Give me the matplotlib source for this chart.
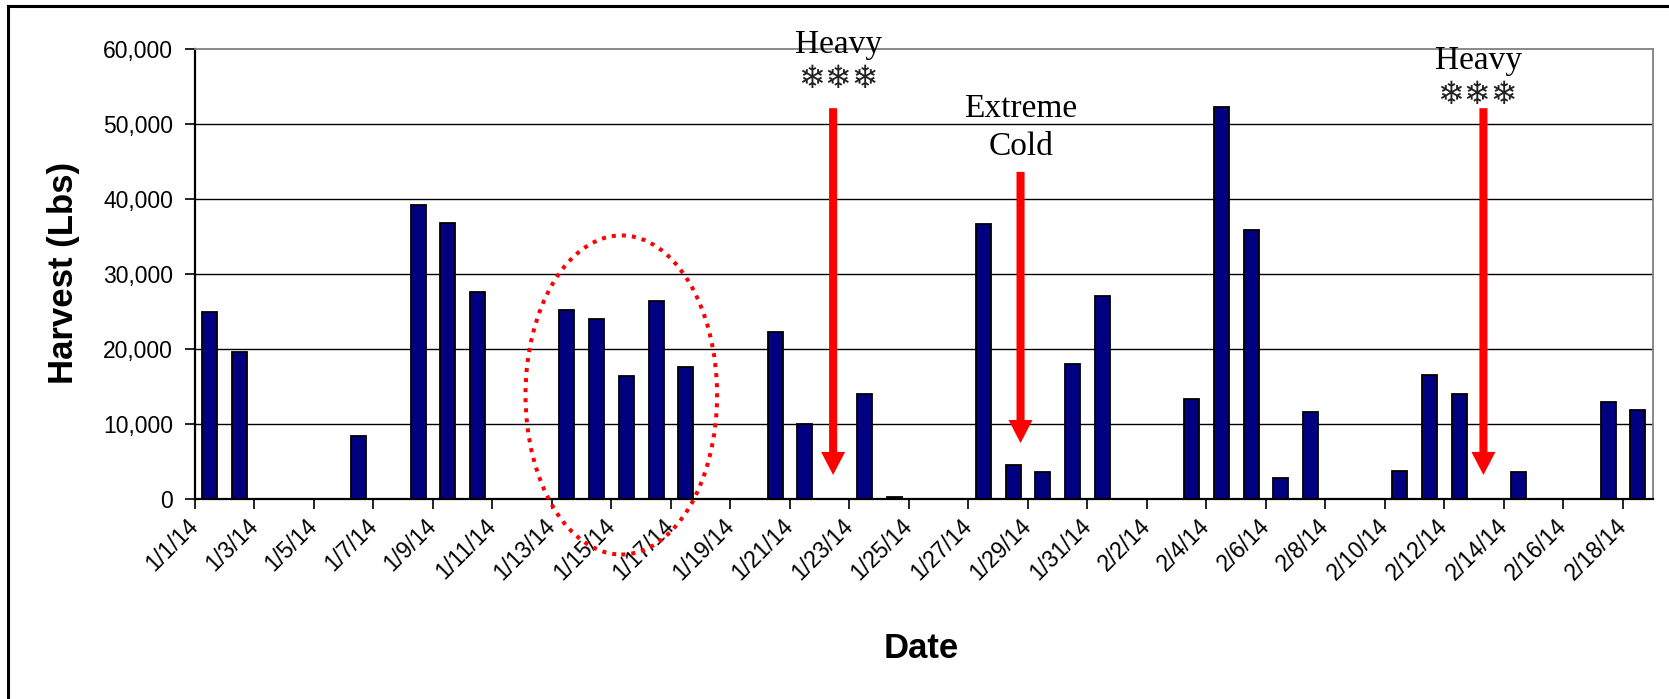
import numpy as np
import pandas as pd
import matplotlib
matplotlib.use("Agg")
import matplotlib.pyplot as plt
from matplotlib.patches import Ellipse
from matplotlib.lines import Line2D
from matplotlib.ticker import FuncFormatter

# daily harvest, 1/1/14 .. 2/18/14 (0 = no harvest that day)
dates = pd.date_range("2014-01-01", "2014-02-18", freq="D")
harvest = [24900, 19500, 0, 0, 0, 8300, 0, 39200, 36800, 27500,
           0, 0, 25100, 24000, 16300, 26400, 17600, 0, 0, 22200,
           9900, 0, 13900, 250, 0, 0, 36600, 4500, 3500, 17900,
           27000, 0, 0, 13300, 52300, 35800, 2700, 11500, 0, 0,
           3700, 16500, 13900, 0, 3500, 0, 0, 12900, 11800]
tick_labels = [f"{d.month}/{d.day}/{d.strftime('%y')}" for d in dates[::2]]
y_ticks = [0, 10000, 20000, 30000, 40000, 50000, 60000]

W, H = 1669, 699
fig = plt.figure(figsize=(W / 100, H / 100), dpi=100)
ax = fig.add_axes([195 / W, 1 - 498.5 / H, (1652.7 - 195) / W, (498.5 - 49) / H])

x = np.arange(len(harvest))
ax.bar(x, harvest, width=0.5, color="#000080", edgecolor="black",
       linewidth=1.3, zorder=2)

ax.set_xlim(-0.5, len(harvest) - 0.5)
ax.set_ylim(0, 60000)
ax.set_yticks(y_ticks)
ax.yaxis.set_major_formatter(FuncFormatter(lambda v, p: f"{int(v):,}"))
ax.set_xticks(np.arange(-0.5, len(harvest) - 1, 2))
ax.set_xticklabels(tick_labels, rotation=45, ha="right", va="center",
                   rotation_mode="anchor")

ax.yaxis.grid(True, color="black", linewidth=1.0)
ax.get_ygridlines()[-1].set_visible(False)
ax.set_axisbelow(True)

for side in ["left", "bottom"]:
    ax.spines[side].set_color("black")
    ax.spines[side].set_linewidth(1.6)
for side in ["top", "right"]:
    ax.spines[side].set_color("#808080")
    ax.spines[side].set_linewidth(1.3)

ax.tick_params(axis="both", direction="out", length=7.2, width=1.2,
               labelsize=16.5, colors="black")
ax.tick_params(axis="y", pad=8.5)
ax.tick_params(axis="x", pad=10)
for lab in ax.get_xticklabels() + ax.get_yticklabels():
    lab.set_family(["Liberation Sans", "DejaVu Sans"])

# circled cluster
ax.add_patch(Ellipse((13.83, 13820), 6.44, 42590, fill=False, edgecolor="red",
                     linewidth=2.9, linestyle=(0, (1, 1.5)), capstyle="butt",
                     clip_on=False, zorder=4))

# weather event arrows
arrow_kw = dict(facecolor="red", edgecolor="none", width=5.8, headwidth=17.3,
                headlength=16.6, shrink=0)
for ax_x, top, tip in [(20.95, 52100, 3140), (27.25, 43600, 7400),
                       (42.81, 52100, 3140)]:
    ax.annotate("", xy=(ax_x, tip), xytext=(ax_x, top), arrowprops=arrow_kw,
                annotation_clip=False, zorder=5)

serif = ["Liberation Serif", "DejaVu Serif"]
flakes = "\u2744\u2744\u2744"
ax.text(21.14, 59440, "Heavy", ha="center", va="baseline", fontsize=24,
        family=serif, clip_on=False, zorder=6)
ax.text(21.14, 55900, flakes, ha="center", va="center",
        fontsize=23, family=["DejaVu Sans"], color="#222222", clip_on=False)
ax.text(27.26, 50970, "Extreme", ha="center", va="baseline", fontsize=24,
        family=serif)
ax.text(27.26, 45860, "Cold", ha="center", va="baseline", fontsize=24,
        family=serif)
ax.text(42.64, 57300, "Heavy", ha="center", va="baseline", fontsize=24,
        family=serif, clip_on=False, zorder=6)
ax.text(42.62, 53760, flakes, ha="center", va="center",
        fontsize=23, family=["DejaVu Sans"], color="#222222", clip_on=False)

fig.text(63 / W, 1 - 273 / H, "Harvest (Lbs)", rotation=90, ha="center",
         va="center", fontsize=25, fontweight="bold",
         family=["Liberation Sans", "DejaVu Sans"])
fig.text(921.7 / W, 1 - 648 / H, "Date", ha="center", va="center",
         fontsize=25, fontweight="bold", family=["Liberation Sans", "DejaVu Sans"])

# chart frame (only left and top edges inside the picture)
fig.add_artist(Line2D([7.5 / W, 7.5 / W], [0, 1 - 6 / H], color="black",
                      linewidth=2.2, transform=fig.transFigure))
fig.add_artist(Line2D([7.5 / W, 1], [1 - 6 / H, 1 - 6 / H], color="black",
                      linewidth=2.2, transform=fig.transFigure))

fig.savefig("out.png", dpi=100, facecolor="white")
